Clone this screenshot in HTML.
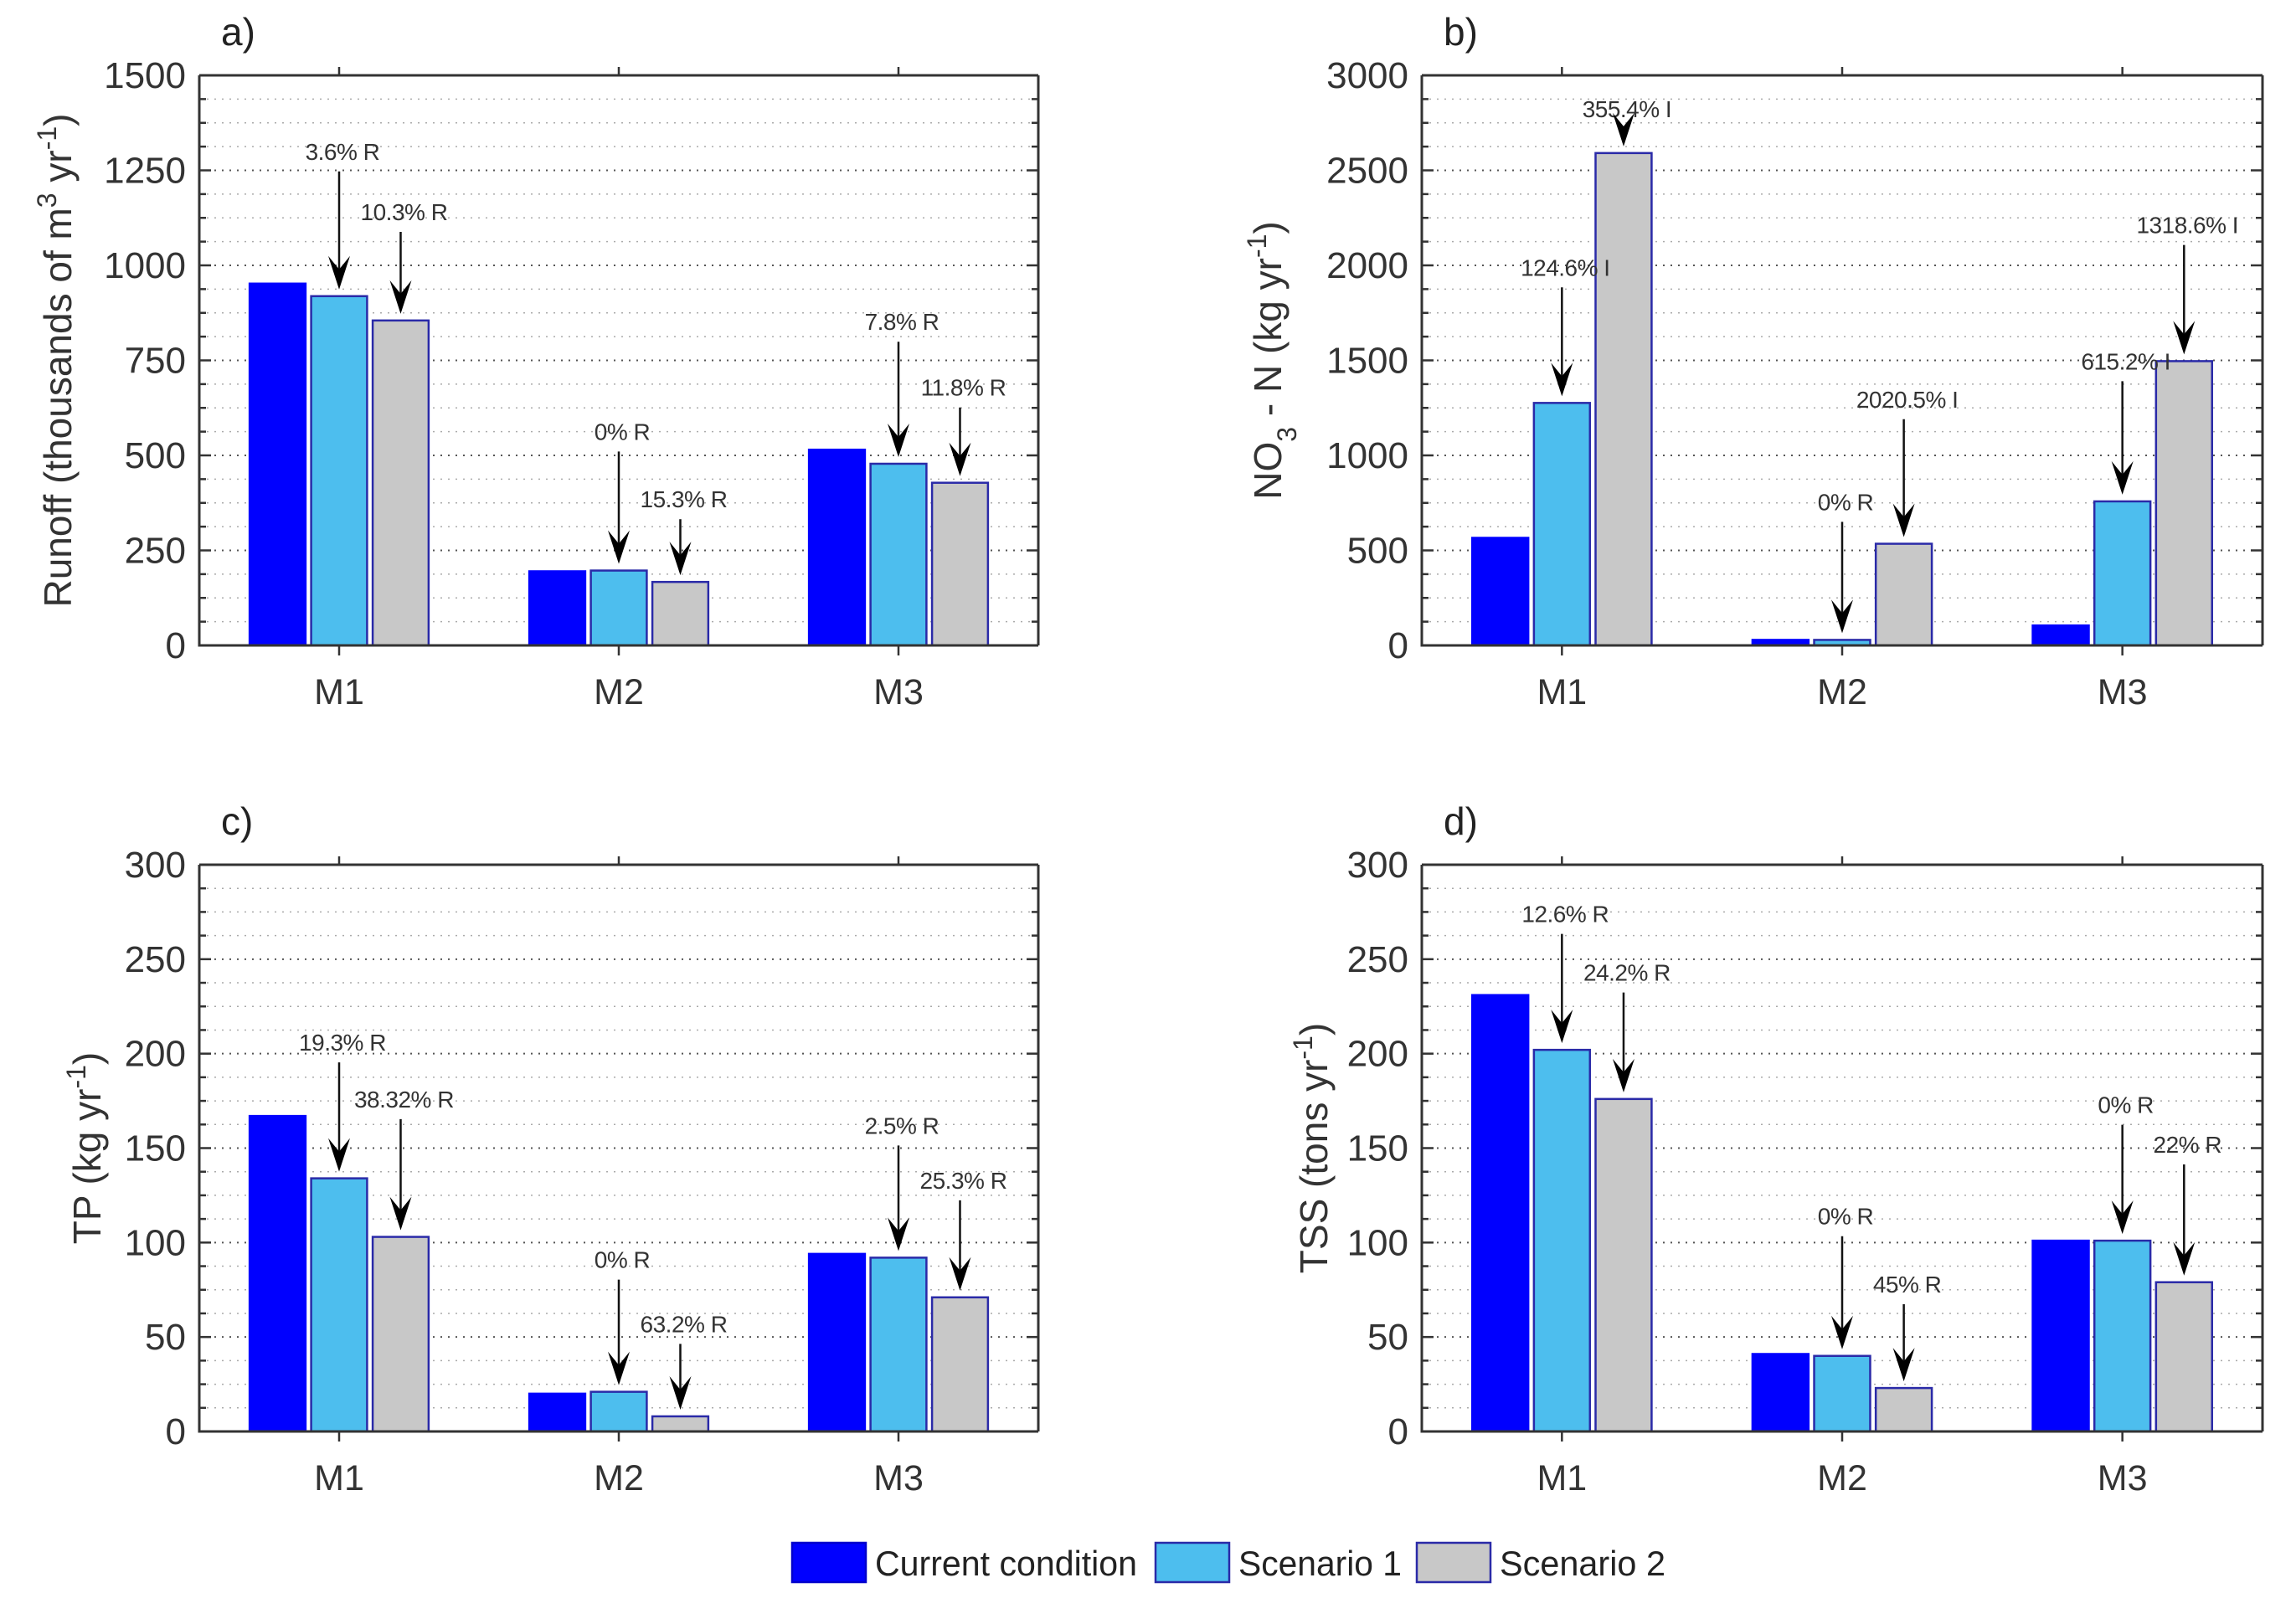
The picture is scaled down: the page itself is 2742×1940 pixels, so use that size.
<!DOCTYPE html>
<html><head><meta charset="utf-8"><style>
html,body{margin:0;padding:0;background:#fff;}
svg{display:block;font-family:"Liberation Sans",Arial,sans-serif;}
</style></head><body>
<svg id="fig" width="2742" height="1940" viewBox="0 0 2742 1940" xmlns="http://www.w3.org/2000/svg"></svg>
<script>
const categories = ["M1","M2","M3"];
const seriesNames = ["Current condition","Scenario 1","Scenario 2"];
const seriesColors = ["#0000FF","#4DBEEE","#C8C8C8"];

const runoffCurrent = [952, 195, 515];
const runoffS1 = [919, 197, 478];
const runoffS2 = [855, 167, 428];
const runoffTicks = [0, 250, 500, 750, 1000, 1250, 1500];
const runoffNotes = ["3.6% R","10.3% R","0% R","15.3% R","7.8% R","11.8% R"];
const runoffNoteY = [1300, 1141, 563, 385, 852, 679];

const no3Current = [566, 29, 105];
const no3S1 = [1276, 29, 758];
const no3S2 = [2591, 535, 1496];
const no3Ticks = [0, 500, 1000, 1500, 2000, 2500, 3000];
const no3Notes = ["124.6% I","355.4% I","0% R","2020.5% I","615.2% I","1318.6% I"];
const no3NoteY = [1990, 2823, 756, 1296, 1496, 2213];

const tpCurrent = [167, 20, 94];
const tpS1 = [134, 21, 92];
const tpS2 = [103, 8, 71];
const tpTicks = [0, 50, 100, 150, 200, 250, 300];
const tpNotes = ["19.3% R","38.32% R","0% R","63.2% R","2.5% R","25.3% R"];
const tpNoteY = [206, 176, 91, 57, 162, 133];

const tssCurrent = [231, 41, 101];
const tssS1 = [202, 40, 101];
const tssS2 = [176, 23, 79];
const tssTicks = [0, 50, 100, 150, 200, 250, 300];
const tssNotes = ["12.6% R","24.2% R","0% R","45% R","0% R","22% R"];
const tssNoteY = [274, 243, 114, 78, 173, 152];

const NS = "http://www.w3.org/2000/svg";
const svg = document.getElementById("fig");
function mk(tag, attrs, parent){
  const e = document.createElementNS(NS, tag);
  for (const k in attrs) e.setAttribute(k, attrs[k]);
  (parent||svg).appendChild(e);
  return e;
}

function panel(cfg){
  const g = mk("g", {});
  
  
  const L = cfg.left, R = cfg.right, T = cfg.top, B = cfg.bottom;
  const ymax = cfg.ticks[cfg.ticks.length-1];
  const ys = v => B - (v / ymax) * (B - T);
  const unitW = (R - L) / 3;
  const xs = c => L + (c + 0.5) * unitW;
  const minorStep = (cfg.ticks[1] - cfg.ticks[0]) / 4;
  for (let v = minorStep; v < ymax - 0.001; v += minorStep) {
    const major = Math.abs(v / (cfg.ticks[1]-cfg.ticks[0]) - Math.round(v / (cfg.ticks[1]-cfg.ticks[0]))) < 1e-6;
    const gl = mk("line", {x1:L, x2:R, y1:ys(v), y2:ys(v), stroke: major ? "#555" : "#aaa", "stroke-width": major?2:1.5, "stroke-dasharray":"2 7"}, g);
    
    
    const t1 = mk("line", {x1:L, x2:L+(major?14:8), y1:ys(v), y2:ys(v), stroke:"#333","stroke-width":2.5}, g);
    
    
    const t2 = mk("line", {x1:R, x2:R-(major?14:8), y1:ys(v), y2:ys(v), stroke:"#333","stroke-width":2.5}, g);
    
    
  }
  cfg.ticks.forEach(v => {
    const t = mk("text", {x:L-16, y:ys(v)+15, "text-anchor":"end", "font-size":44, fill:"#333"}, g);
    t.textContent = v;
    
    
  });
  const series = cfg.series;
  series.forEach((vals, s) => {
    vals.forEach((v, c) => {
      const cx = xs(c) + (s - 1) * 0.22 * unitW;
      const w = 0.2 * unitW;
      const r = mk("rect", {x:cx - w/2, y:ys(v), width:w, height:B - ys(v), fill:seriesColors[s], stroke:s===0?"#0000FF":"#2a2aa8", "stroke-width":2.5}, g);
      
      
    });
  });
  cfg.notes.forEach((txt, i) => {
    const c = Math.floor(i / 2), s = 1 + (i % 2);
    const cx = xs(c) + (s - 1) * 0.22 * unitW;
    const ty = ys(cfg.noteY[i]);
    const tip = ys(series[s][c]) - 8;
    const t = mk("text", {x:cx+4, y:ty+10, "text-anchor":"middle", "font-size":28, fill:"#333", "letter-spacing":"-0.5"}, g);
    t.textContent = txt;
    
    
    const ln = mk("line", {x1:cx, x2:cx, y1:ty+24, y2:tip-4, stroke:"#111", "stroke-width":2.5}, g);
    
    
    const hd = mk("path", {d:`M${cx} ${tip} L${cx-13} ${tip-40} L${cx} ${tip-24} L${cx+13} ${tip-40} Z`, fill:"#000"}, g);
    
    
  });
  const box = mk("path", {d:`M${L} ${T} L${L} ${B} L${R} ${B} M${L} ${T} L${R} ${T} M${R} ${T} L${R} ${B}`, fill:"none", stroke:"#333", "stroke-width":3}, g);
  
  
  categories.forEach((cat, c) => {
    const x = xs(c);
    mk("line", {x1:x, x2:x, y1:B, y2:B+12, stroke:"#333","stroke-width":2.5}, g);
    mk("line", {x1:x, x2:x, y1:T, y2:T-10, stroke:"#333","stroke-width":2.5}, g);
    const t = mk("text", {x:x, y:B+70, "text-anchor":"middle", "font-size":43, fill:"#333"}, g);
    t.textContent = cat;
    
    
  });
  const pl = mk("text", {x:L+26, y:T-36, "font-size":46, fill:"#222"}, g);
  pl.textContent = cfg.letter;
  
  
  const yt = mk("text", {x:0, y:0, "text-anchor":"middle", "font-size":46, fill:"#333", transform:`translate(${cfg.titleX},${(T+B)/2}) rotate(-90)`}, g);
  yt.innerHTML = cfg.title;
  
  
}

panel({name:"panel-runoff", letter:"a)", left:238, right:1240, top:90, bottom:771, ticks:runoffTicks,
  series:[runoffCurrent, runoffS1, runoffS2], notes:runoffNotes, noteY:runoffNoteY, titleX:85,
  title:'Runoff (thousands of m<tspan baseline-shift="super" font-size="32">3</tspan> yr<tspan baseline-shift="super" font-size="32">-1</tspan>)'});
panel({name:"panel-no3", letter:"b)", left:1698, right:2702, top:90, bottom:771, ticks:no3Ticks,
  series:[no3Current, no3S1, no3S2], notes:no3Notes, noteY:no3NoteY, titleX:1530,
  title:'NO<tspan baseline-shift="sub" font-size="32">3</tspan> - N (kg yr<tspan baseline-shift="super" font-size="32">-1</tspan>)'});
panel({name:"panel-tp", letter:"c)", left:238, right:1240, top:1033, bottom:1710, ticks:tpTicks,
  series:[tpCurrent, tpS1, tpS2], notes:tpNotes, noteY:tpNoteY, titleX:120,
  title:'TP (kg yr<tspan baseline-shift="super" font-size="32">-1</tspan>)'});
panel({name:"panel-tss", letter:"d)", left:1698, right:2702, top:1033, bottom:1710, ticks:tssTicks,
  series:[tssCurrent, tssS1, tssS2], notes:tssNotes, noteY:tssNoteY, titleX:1585,
  title:'TSS (tons yr<tspan baseline-shift="super" font-size="32">-1</tspan>)'});

const lg = mk("g", {});


const legBoxX = [946, 1380, 1692];
const legTextW = [313, 195, 198];
seriesNames.forEach((n, i) => {
  const r = mk("rect", {x:legBoxX[i], y:1843, width:88, height:47, fill:seriesColors[i], stroke:i===0?"#0000cc":"#2a2aa8", "stroke-width":2.5}, lg);
  
  
  const t = mk("text", {x:legBoxX[i]+99, y:1882, "font-size":42, fill:"#222", textLength:legTextW[i], lengthAdjust:"spacingAndGlyphs"}, lg);
  t.textContent = n;
  
  
});
</script>
</body></html>
